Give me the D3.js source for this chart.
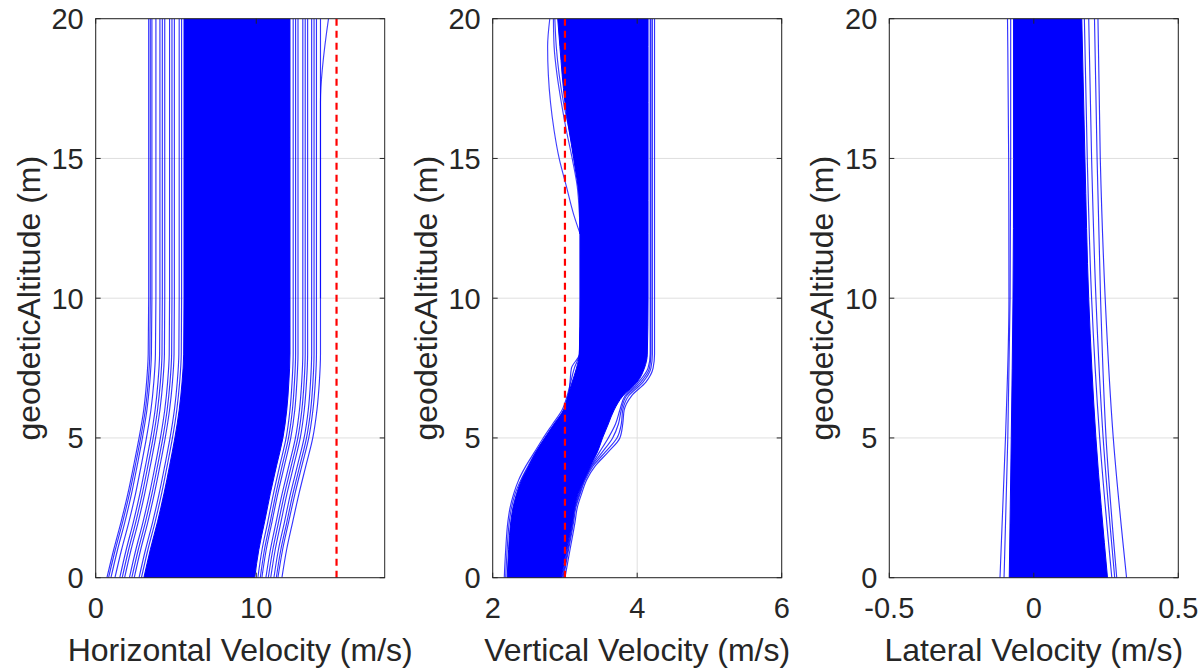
<!DOCTYPE html>
<html>
<head>
<meta charset="utf-8">
<script src="https://cdn.jsdelivr.net/npm/d3@7"></script>
<style>
  html, body { margin: 0; padding: 0; background: #ffffff; }
  svg { display: block; }
  text { font-family: "Liberation Sans", Arial, Helvetica, sans-serif; fill: #262626; }
</style>
</head>
<body>
<svg id="chart" width="1202" height="670"></svg>
<script>
// ---------------- data ----------------
const altTicks = [0, 5, 10, 15, 20];
const hvTicks = [0, 10];
const vvTicks = [2, 4, 6];
const latTicks = [-0.5, 0, 0.5];

const hvLimit = 15;   // red dashed limit, horizontal velocity
const vvLimit = 3;    // red dashed limit, vertical velocity

// Horizontal velocity: altitude knots and envelopes / individual runs
const hvAlt = [0, 1, 2, 3, 4, 5, 6, 7, 8, 10, 20];
const hvCoreLeft  = [3.0, 3.4, 3.85, 4.25, 4.6, 4.93, 5.2, 5.38, 5.48, 5.5, 5.5];
const hvCoreRight = [9.9, 10.16, 10.52, 10.87, 11.26, 11.66, 11.9, 12.03, 12.1, 12.1, 12.1];
const hvL1 = [0.7, 1.12, 1.58, 2.0, 2.36, 2.70, 2.99, 3.17, 3.27, 3.3, 3.3];
const hvL9 = [0.8, 1.22, 1.68, 2.1, 2.46, 2.8, 3.09, 3.27, 3.37, 3.4, 3.4];
const hvL2 = [0.95, 1.36, 1.82, 2.23, 2.58, 2.91, 3.19, 3.37, 3.47, 3.5, 3.5];
const hvL3 = [1.2, 1.61, 2.07, 2.48, 2.83, 3.16, 3.44, 3.62, 3.72, 3.75, 3.75];
const hvL4 = [1.5, 1.9, 2.35, 2.75, 3.1, 3.43, 3.7, 3.88, 3.98, 4.0, 4.0];
const hvL10 = [1.65, 2.05, 2.5, 2.9, 3.25, 3.58, 3.85, 4.03, 4.13, 4.15, 4.15];
const hvL5 = [1.8, 2.2, 2.65, 3.05, 3.4, 3.73, 4.0, 4.18, 4.28, 4.3, 4.3];
const hvL6 = [2.1, 2.5, 2.95, 3.35, 3.7, 4.03, 4.3, 4.48, 4.58, 4.6, 4.6];
const hvL11 = [2.25, 2.65, 3.1, 3.5, 3.85, 4.18, 4.45, 4.63, 4.73, 4.75, 4.75];
const hvL7 = [2.4, 2.8, 3.25, 3.65, 4.0, 4.33, 4.6, 4.78, 4.88, 4.9, 4.9];
const hvL8 = [2.7, 3.1, 3.55, 3.95, 4.3, 4.63, 4.9, 5.08, 5.18, 5.2, 5.2];
const hvL12 = [2.85, 3.25, 3.7, 4.1, 4.45, 4.78, 5.05, 5.23, 5.33, 5.35, 5.35];
const hvR1 = [10.1, 10.36, 10.72, 11.07, 11.46, 11.86, 12.1, 12.23, 12.3, 12.3, 12.3];
const hvR8 = [10.25, 10.51, 10.87, 11.22, 11.61, 12.01, 12.25, 12.38, 12.45, 12.45, 12.45];
const hvR2 = [10.35, 10.62, 10.98, 11.34, 11.75, 12.15, 12.4, 12.53, 12.6, 12.6, 12.6];
const hvR3 = [10.6, 10.88, 11.24, 11.61, 12.03, 12.44, 12.69, 12.83, 12.9, 12.9, 12.9];
const hvR9 = [10.75, 11.03, 11.39, 11.76, 12.18, 12.59, 12.84, 12.98, 13.05, 13.05, 13.05];
const hvR4 = [10.9, 11.18, 11.54, 11.91, 12.33, 12.74, 12.99, 13.13, 13.2, 13.2, 13.2];
const hvR5 = [11.1, 11.38, 11.76, 12.13, 12.56, 12.98, 13.24, 13.38, 13.45, 13.45, 13.45];
const hvR10 = [11.25, 11.53, 11.91, 12.28, 12.71, 13.13, 13.39, 13.53, 13.6, 13.6, 13.6];
const hvR6 = [11.35, 11.64, 12.02, 12.41, 12.84, 13.27, 13.53, 13.68, 13.75, 13.75, 13.75];
const hvR7 = [11.6, 11.89, 12.27, 12.66, 13.09, 13.52, 13.78, 13.93, 14.0, 14.0, 14.0];
const hvOutAlt = [10, 17, 20];
const hvOut = [14.0, 14.0, 14.5];

// Vertical velocity
const vvAlt = [0, 1, 2, 2.5, 3, 3.5, 4, 4.5, 5, 5.5, 6, 6.5, 7, 7.5, 8, 10, 12.3, 13.5, 15, 17, 19, 20];
const vvCoreLeft  = [2.2, 2.22, 2.25, 2.28, 2.33, 2.4, 2.5, 2.6, 2.72, 2.85, 2.98, 3.04, 3.1, 3.16, 3.2, 3.21, 3.21, 3.2, 3.12, 3.0, 2.93, 2.9];
const vvCoreRight = [2.95, 3.02, 3.1, 3.13, 3.18, 3.26, 3.35, 3.45, 3.52, 3.6, 3.68, 3.8, 4.0, 4.1, 4.14, 4.15, 4.15, 4.15, 4.15, 4.15, 4.15, 4.15];
const vvS1 = [3.0, 3.07, 3.14, 3.17, 3.23, 3.3, 3.42, 3.6, 3.76, 3.8, 3.82, 3.92, 4.12, 4.22, 4.24, 4.24, 4.24, 4.24, 4.24, 4.24, 4.24, 4.24];
const vvS2 = [2.98, 3.05, 3.12, 3.15, 3.21, 3.28, 3.39, 3.56, 3.72, 3.78, 3.8, 3.88, 4.08, 4.19, 4.21, 4.21, 4.21, 4.21, 4.21, 4.21, 4.21, 4.21];
const vvS3 = [2.97, 3.04, 3.11, 3.14, 3.2, 3.27, 3.37, 3.52, 3.66, 3.74, 3.78, 3.85, 4.05, 4.17, 4.19, 4.19, 4.19, 4.19, 4.19, 4.19, 4.19, 4.19];
const vvS4 = [2.96, 3.03, 3.1, 3.13, 3.19, 3.26, 3.36, 3.48, 3.6, 3.7, 3.76, 3.83, 4.02, 4.15, 4.18, 4.18, 4.18, 4.18, 4.18, 4.18, 4.18, 4.18];
const vvL1 = [2.16, 2.18, 2.21, 2.24, 2.29, 2.36, 2.46, 2.58, 2.7, 2.83, 2.96, 3.03, 3.08, 3.13, 3.2, 3.21, 3.21, 3.21, 3.21, 3.21, 3.21, 3.21];
const vvL2 = [2.18, 2.2, 2.23, 2.26, 2.31, 2.39, 2.49, 2.6, 2.73, 2.86, 2.99, 3.05, 3.07, 3.09, 3.2, 3.22, 3.22, 3.22, 3.22, 3.22, 3.22, 3.22];
const vvOutAlt = [12.3, 13, 14, 15, 16, 17, 18, 19, 20];
const vvO1 = [3.21, 3.12, 3.02, 2.92, 2.85, 2.8, 2.77, 2.76, 2.79];
const vvO2 = [3.21, 3.2, 3.17, 3.1, 3.02, 2.95, 2.89, 2.85, 2.84];
const vvO3 = [3.21, 3.21, 3.19, 3.13, 3.06, 2.98, 2.92, 2.88, 2.86];

// Lateral velocity
const latAlt = [0, 5, 10, 15, 20];
const latCoreLeft  = [-0.085, -0.078, -0.072, -0.07, -0.07];
const latCoreRight = [0.255, 0.215, 0.19, 0.177, 0.166];
const latA = [-0.117, -0.098, -0.086, -0.087, -0.091];
const latB = [-0.103, -0.09, -0.082, -0.08, -0.08];
const latC = [0.27, 0.228, 0.2, 0.185, 0.175];
const latF = [0.28, 0.24, 0.215, 0.2, 0.19];
const latD = [0.287, 0.25, 0.231, 0.219, 0.21];
const latE = [0.321, 0.275, 0.247, 0.23, 0.222];

// ---------------- layout ----------------
const panels = [
  { left: 95.7, domain: [0, 18], ticks: hvTicks, xlabel: "Horizontal Velocity (m/s)",
    alt: hvAlt, coreL: hvCoreLeft, coreR: hvCoreRight,
    runs: [hvL1, hvL9, hvL2, hvL3, hvL4, hvL10, hvL5, hvL6, hvL11, hvL7, hvL8, hvL12,
           hvR1, hvR8, hvR2, hvR3, hvR9, hvR4, hvR5, hvR10, hvR6, hvR7],
    extraAlt: hvOutAlt, extra: [hvOut], limit: hvLimit },
  { left: 492.7, domain: [2, 6], ticks: vvTicks, xlabel: "Vertical Velocity (m/s)",
    alt: vvAlt, coreL: vvCoreLeft, coreR: vvCoreRight,
    runs: [vvS1, vvS2, vvS3, vvS4, vvL1, vvL2],
    extraAlt: vvOutAlt, extra: [vvO1, vvO2, vvO3], limit: vvLimit },
  { left: 889.3, domain: [-0.5, 0.5], ticks: latTicks, xlabel: "Lateral Velocity (m/s)",
    alt: latAlt, coreL: latCoreLeft, coreR: latCoreRight,
    runs: [latA, latB, latC, latF, latD, latE],
    extraAlt: null, extra: [], limit: null }
];

const W = 289, TOP = 18.7, BOTTOM = 577.7;
const svg = d3.select("#chart");
const y = d3.scaleLinear().domain([0, 20]).range([BOTTOM, TOP]);
const axisColor = "#262626", gridColor = "#dfdfdf", blue = "#0000ff";
const tickLen = 5;

panels.forEach((p, i) => {
  const x = d3.scaleLinear().domain(p.domain).range([p.left, p.left + W]);
  const g = svg.append("g");
  const clipId = "clip" + i;
  svg.append("clipPath").attr("id", clipId).append("rect")
    .attr("x", p.left).attr("y", TOP).attr("width", W).attr("height", BOTTOM - TOP);

  // grid
  g.selectAll(".hg").data(altTicks).enter().append("line")
    .attr("x1", p.left).attr("x2", p.left + W)
    .attr("y1", d => y(d)).attr("y2", d => y(d))
    .attr("stroke", gridColor).attr("stroke-width", 1);
  g.selectAll(".vg").data(p.ticks).enter().append("line")
    .attr("x1", d => x(d)).attr("x2", d => x(d))
    .attr("y1", TOP).attr("y2", BOTTOM)
    .attr("stroke", gridColor).attr("stroke-width", 1);

  const data = g.append("g").attr("clip-path", `url(#${clipId})`);

  // dense core of the run bundle
  const coreData = p.alt.map((h, k) => ({ h: h, l: p.coreL[k], r: p.coreR[k] }));
  const area = d3.area()
    .y(d => y(d.h)).x0(d => x(d.l)).x1(d => x(d.r))
    .curve(d3.curveMonotoneY);
  data.append("path").datum(coreData).attr("d", area)
    .attr("fill", blue).attr("stroke", blue).attr("stroke-width", 1);

  // individual runs
  const line = d3.line().x(d => x(d[0])).y(d => y(d[1])).curve(d3.curveMonotoneY);
  p.runs.forEach(r => {
    data.append("path").datum(r.map((v, k) => [v, p.alt[k]]))
      .attr("d", line).attr("fill", "none")
      .attr("stroke", blue).attr("stroke-width", 1.15).attr("stroke-opacity", 0.8);
  });
  p.extra.forEach(r => {
    data.append("path").datum(r.map((v, k) => [v, p.extraAlt[k]]))
      .attr("d", line).attr("fill", "none")
      .attr("stroke", blue).attr("stroke-width", 1.15).attr("stroke-opacity", 0.75);
  });

  // limit line
  if (p.limit !== null) {
    data.append("line")
      .attr("x1", x(p.limit)).attr("x2", x(p.limit))
      .attr("y1", y(0)).attr("y2", y(20))
      .attr("stroke", "#ff0000").attr("stroke-width", 2.2)
      .attr("stroke-dasharray", "7,5");
  }

  // box
  g.append("rect").attr("x", p.left).attr("y", TOP).attr("width", W).attr("height", BOTTOM - TOP)
    .attr("fill", "none").attr("stroke", axisColor).attr("stroke-width", 1);

  // ticks (inward, both sides)
  altTicks.forEach(t => {
    g.append("line").attr("x1", p.left).attr("x2", p.left + tickLen)
      .attr("y1", y(t)).attr("y2", y(t)).attr("stroke", axisColor);
    g.append("line").attr("x1", p.left + W - tickLen).attr("x2", p.left + W)
      .attr("y1", y(t)).attr("y2", y(t)).attr("stroke", axisColor);
  });
  p.ticks.forEach(t => {
    g.append("line").attr("x1", x(t)).attr("x2", x(t))
      .attr("y1", BOTTOM).attr("y2", BOTTOM - tickLen).attr("stroke", axisColor);
    g.append("line").attr("x1", x(t)).attr("x2", x(t))
      .attr("y1", TOP).attr("y2", TOP + tickLen).attr("stroke", axisColor);
  });

  // tick labels
  g.selectAll(".yl").data(altTicks).enter().append("text")
    .attr("x", p.left - 12).attr("y", d => y(d)).attr("dy", "0.36em")
    .attr("text-anchor", "end").attr("font-size", 29)
    .text(d => String(d));
  g.selectAll(".xl").data(p.ticks).enter().append("text")
    .attr("x", d => x(d)).attr("y", 618)
    .attr("text-anchor", "middle").attr("font-size", 29)
    .text(d => String(d));

  // axis labels
  g.append("text").attr("x", p.left + W / 2).attr("y", 661)
    .attr("text-anchor", "middle").attr("font-size", 32)
    .text(p.xlabel);
  g.append("text")
    .attr("transform", `translate(${p.left - 56},${(TOP + BOTTOM) / 2}) rotate(-90)`)
    .attr("text-anchor", "middle").attr("font-size", 32)
    .text("geodeticAltitude (m)");
});
</script>
</body>
</html>
